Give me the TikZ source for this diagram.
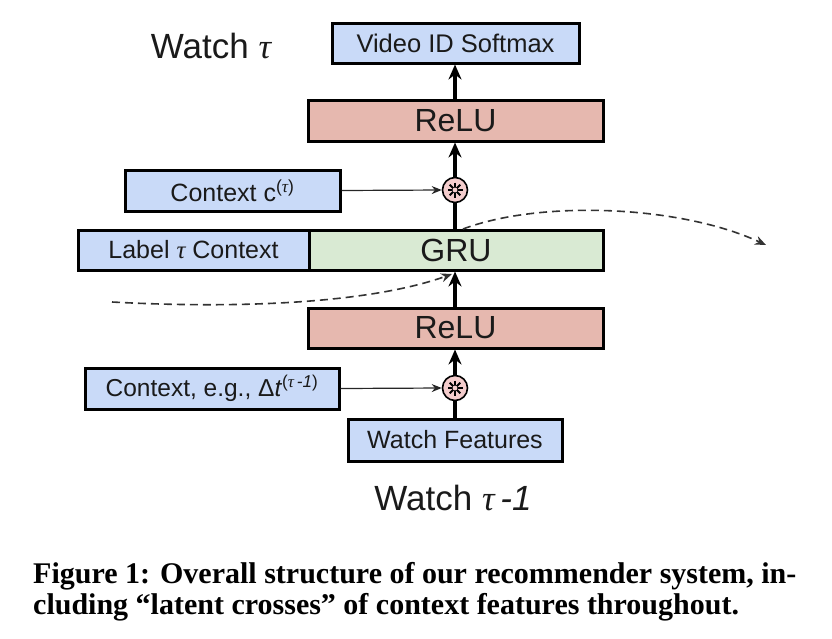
\documentclass[tikz,border=0pt]{standalone}
\usepackage{fontspec}
\setmainfont{Liberation Sans}
\newfontfamily\capfont{Liberation Serif}
\usetikzlibrary{arrows.meta,calc}
\definecolor{bblue}{HTML}{C9DAF8}
\definecolor{bred}{HTML}{E6B8AF}
\definecolor{bgreen}{HTML}{D9EAD3}
\definecolor{bpink}{HTML}{F4CCCC}
\definecolor{txt}{HTML}{1A1A1A}
\newcommand{\mytau}{{\capfont\itshape τ}}
\tikzset{
  boxnode/.style={draw=black, line width=3pt, inner sep=0pt, text=txt},
  bluebox/.style={boxnode, fill=bblue},
  redbox/.style={boxnode, fill=bred},
  greenbox/.style={boxnode, fill=bgreen},
  crossnode/.style={circle, draw=black, line width=1.6pt, fill=bpink, minimum size=25pt, inner sep=0pt},
  thick arrow/.style={line width=3.4pt, -{Stealth[length=15pt,width=13pt,inset=5pt]}},
  thick line/.style={line width=3.4pt},
  thin arrow/.style={line width=1.2pt, draw=black!85, -{Stealth[length=10pt,width=8pt]}},
  dash curve/.style={line width=1.6pt, draw=black!80, dash pattern=on 8pt off 5pt, -{Stealth[length=11pt,width=9pt]}},
}
\newcommand{\crossmark}[1]{%
  \foreach \a in {0,45,90,135}{\draw[line width=1.8pt] ($(#1)+(\a:7.5pt)$) -- ($(#1)+(\a+180:7.5pt)$);}
  \fill[bpink] (#1) circle (2.4pt);
}
\begin{document}
\begin{tikzpicture}[x=1pt,y=-1pt]
\useasboundingbox (0,0) rectangle (832,638);
% boxes
\node[bluebox, minimum width=247pt, minimum height=40pt, font=\fontsize{25.5}{28}\selectfont] (vid) at (455.5,43) {Video ID Softmax};
\node[redbox, minimum width=295pt, minimum height=41pt, font=\fontsize{32}{34}\selectfont] (relu1) at (455.5,120.5) {ReLU};
\node[bluebox, minimum width=215pt, minimum height=41pt, font=\fontsize{25}{28}\selectfont] (ctx1) at (232.5,190.5) {Context c\textsuperscript{(\mytau)}};
\node[crossnode] (x1) at (455,190) {};
\node[bluebox, minimum width=231pt, minimum height=40pt, font=\fontsize{25}{28}\selectfont] (label) at (193.5,250) {Label \mytau\ Context};
\node[greenbox, minimum width=294pt, minimum height=40pt, font=\fontsize{32}{34}\selectfont] (gru) at (456,250) {GRU};
\node[redbox, minimum width=295pt, minimum height=40pt, font=\fontsize{32}{34}\selectfont] (relu2) at (455.5,328) {ReLU};
\node[bluebox, minimum width=254pt, minimum height=41pt, font=\fontsize{24.5}{27}\selectfont] (ctx2) at (212,388.5) {Context, e.g., Δ\textit{t}\textsuperscript{(\mytau\,\textit{-1})}};
\node[crossnode] (x2) at (455,388) {};
\node[bluebox, minimum width=214pt, minimum height=42pt, font=\fontsize{25}{28}\selectfont] (wf) at (455,440) {Watch Features};
% labels
\node[text=txt, font=\fontsize{35}{38}\selectfont] (wt) at (211,46) {Watch \mytau};
\node[text=txt, font=\fontsize{35}{38}\selectfont] (wt1) at (453,498) {Watch \mytau\,\textit{-1}};
% cross symbols
\crossmark{x1}
\crossmark{x2}
% vertical connectors
\draw[thick line] (wf.north) -- (x2.south);
\draw[thick arrow] (x2.north) -- (relu2.south -| x2);
\draw[thick arrow] (relu2.north -| x2) -- (gru.south -| x2);
\draw[thick line] (gru.north -| x1) -- (x1.south);
\draw[thick arrow] (x1.north) -- (relu1.south -| x1);
\draw[thick arrow] (relu1.north -| x1) -- (vid.south -| x1);
% horizontal connectors
\draw[thin arrow] (ctx1.east) -- (x1.west);
\draw[thin arrow] (ctx2.east) -- (x2.west);
% dashed recurrent curves
\coordinate (din) at (112,302);
\coordinate (dend) at (452,274);
\coordinate (dout) at (463,229);
\coordinate (dfar) at (766,245);
\draw[dash curve] (din) .. controls (260,310) and (380,300) .. (dend);
\draw[dash curve] (dout) .. controls (540,200) and (680,205) .. (dfar);
% caption
\node[anchor=base west, inner sep=0pt, font=\capfont\bfseries\fontsize{30}{34}\selectfont] (cap1) at (33,583) {Figure 1: Overall structure of our recommender system, in-};
\node[anchor=base west, inner sep=0pt, font=\capfont\bfseries\fontsize{30}{34}\selectfont] (cap2) at (33,614) {cluding “latent crosses” of context features throughout.};
\end{tikzpicture}
\end{document}
